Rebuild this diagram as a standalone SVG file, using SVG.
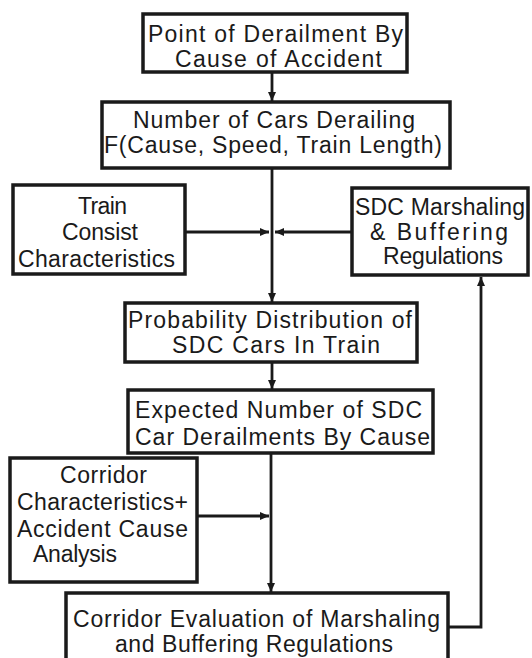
<svg xmlns="http://www.w3.org/2000/svg" width="532" height="658" viewBox="0 0 532 658">
<style>
.box{fill:#fff;stroke:#1a1a1a;stroke-width:3.5}
.t{font-family:"Liberation Sans",Arial,sans-serif;font-size:23px;fill:#1a1a1a}
.c{fill:none;stroke:#1a1a1a;stroke-width:2.8}
</style>
<defs>
<marker id="ah" markerWidth="10" markerHeight="8" refX="9" refY="4" orient="auto" markerUnits="userSpaceOnUse">
<path d="M0,0 L9,4 L0,8 z" fill="#1a1a1a"/>
</marker>
</defs>
<rect width="532" height="658" fill="#fff"/>
<g id="connectors">
<line class="c" x1="272" y1="72" x2="272" y2="101" marker-end="url(#ah)"/>
<line class="c" x1="272" y1="168" x2="272" y2="302" marker-end="url(#ah)"/>
<line class="c" x1="185" y1="232" x2="269" y2="232" marker-end="url(#ah)"/>
<line class="c" x1="352" y1="232" x2="275" y2="232" marker-end="url(#ah)"/>
<line class="c" x1="272" y1="362" x2="272" y2="389" marker-end="url(#ah)"/>
<line class="c" x1="271" y1="453" x2="271" y2="592" marker-end="url(#ah)"/>
<line class="c" x1="197" y1="516" x2="269" y2="516" marker-end="url(#ah)"/>
<polyline class="c" points="448,627 481,627 481,277" marker-end="url(#ah)"/>
</g>
<g id="n1">
<rect class="box" x="143" y="14" width="264" height="58"/>
<text class="t" x="148" y="42" textLength="255">Point of Derailment By</text>
<text class="t" x="175" y="67" textLength="207">Cause of Accident</text>
</g>
<g id="n2">
<rect class="box" x="102" y="102" width="348" height="66"/>
<text class="t" x="133" y="128" textLength="282">Number of Cars Derailing</text>
<text class="t" x="104" y="153" textLength="338">F(Cause, Speed, Train Length)</text>
</g>
<g id="n3">
<rect class="box" x="13" y="185" width="172" height="89"/>
<text class="t" x="78" y="214" textLength="49">Train</text>
<text class="t" x="62" y="240" textLength="76">Consist</text>
<text class="t" x="18" y="267" textLength="157">Characteristics</text>
</g>
<g id="n4">
<rect class="box" x="352" y="188" width="176" height="87"/>
<text class="t" x="355" y="215" textLength="170">SDC Marshaling</text>
<text class="t" x="370" y="240" textLength="138">&amp; Buffering</text>
<text class="t" x="383" y="264" textLength="120">Regulations</text>
</g>
<g id="n5">
<rect class="box" x="125" y="303" width="292" height="59"/>
<text class="t" x="128" y="328" textLength="284">Probability Distribution of</text>
<text class="t" x="172" y="353" textLength="208">SDC Cars In Train</text>
</g>
<g id="n6">
<rect class="box" x="128" y="390" width="305" height="63"/>
<text class="t" x="135" y="418" textLength="287">Expected Number of SDC</text>
<text class="t" x="135" y="445" textLength="295">Car Derailments By Cause</text>
</g>
<g id="n7">
<rect class="box" x="10" y="458" width="187" height="124"/>
<text class="t" x="60" y="483" textLength="87">Corridor</text>
<text class="t" x="17" y="510" textLength="171">Characteristics+</text>
<text class="t" x="17" y="537" textLength="171">Accident Cause</text>
<text class="t" x="33" y="562" textLength="84">Analysis</text>
</g>
<g id="n8">
<rect class="box" x="66" y="593" width="382" height="68"/>
<text class="t" x="73" y="627" textLength="367">Corridor Evaluation of Marshaling</text>
<text class="t" x="115" y="652" textLength="278">and Buffering Regulations</text>
</g>
</svg>
